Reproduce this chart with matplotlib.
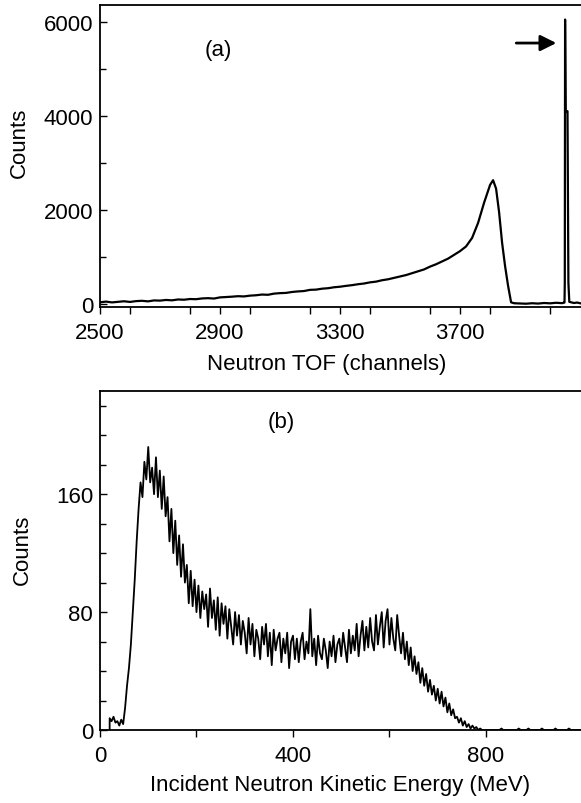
import numpy as np
import matplotlib
matplotlib.use("Agg")
import matplotlib.pyplot as plt
from matplotlib.ticker import MultipleLocator

plt.rcParams['font.family'] = ['Liberation Sans', 'DejaVu Sans']
plt.rcParams['font.size'] = 16

# (a) neutron TOF spectrum
tof_ch = [2500, 2520, 2540, 2560, 2580, 2600, 2620, 2640, 2660, 2680,
          2700, 2720, 2740, 2760, 2780, 2800, 2820, 2840, 2860, 2880,
          2900, 2920, 2940, 2960, 2980, 3000, 3020, 3040, 3060, 3080,
          3100, 3120, 3140, 3160, 3180, 3200, 3220, 3240, 3260, 3280,
          3300, 3320, 3340, 3360, 3380, 3400, 3420, 3440, 3460, 3480,
          3500, 3520, 3540, 3560, 3580, 3600, 3620, 3640, 3660, 3680,
          3700, 3720, 3740, 3760, 3780, 3800, 3810, 3820, 3830, 3840,
          3850, 3860, 3870, 3880, 3900, 3920, 3940, 3960, 3980, 4000,
          4020, 4040, 4045, 4048, 4049, 4050, 4052, 4054, 4056, 4058,
          4061, 4064, 4070, 4080, 4090, 4100]
tof_counts = [30, 45, 28, 40, 52, 38, 55, 62, 50, 70,
              66, 80, 72, 90, 85, 100, 96, 112, 118, 110,
              135, 142, 150, 160, 155, 172, 180, 195, 190, 215,
              225, 230, 250, 262, 270, 295, 300, 320, 330, 350,
              362, 380, 395, 415, 430, 455, 470, 500, 520, 550,
              580, 610, 650, 690, 730, 790, 840, 900, 960, 1040,
              1120, 1220, 1400, 1720, 2150, 2530, 2630, 2450, 1950, 1300,
              800, 380, 30, 10, 5, 0, 10, 3, 15, 8,
              20, 12, 20, 25, 450, 6050, 4100, 4100, 4100, 4100,
              450, 40, 30, 15, 25, 10]

# (b) incident neutron kinetic energy spectrum
energy = [20] + list(range(20, 1000, 4))
energy_counts = [0,
    8, 6, 9, 5, 6, 3, 7, 4, 15, 30,
    42, 58, 80, 102, 128, 150, 168, 158, 182, 170,
    192, 168, 178, 160, 185, 158, 176, 150, 172, 145,
    158, 128, 150, 120, 142, 112, 132, 104, 126, 100,
    112, 86, 108, 84, 102, 80, 98, 76, 94, 82,
    92, 70, 96, 76, 88, 68, 90, 64, 86, 72,
    84, 62, 82, 70, 58, 80, 64, 78, 58, 74,
    66, 52, 76, 58, 72, 50, 68, 62, 48, 70,
    58, 72, 50, 66, 44, 68, 54, 62, 66, 46,
    62, 52, 66, 42, 60, 64, 48, 62, 46, 60,
    66, 48, 60, 52, 82, 50, 62, 44, 64, 52,
    48, 62, 54, 42, 60, 50, 64, 46, 58, 62,
    50, 66, 56, 46, 68, 52, 64, 54, 72, 50,
    64, 74, 54, 70, 56, 76, 60, 54, 78, 58,
    70, 80, 56, 74, 82, 58, 76, 62, 54, 78,
    64, 52, 66, 48, 60, 44, 56, 40, 50, 38,
    46, 32, 42, 30, 38, 26, 34, 24, 30, 20,
    28, 18, 26, 16, 22, 12, 18, 10, 14, 8,
    9, 5, 8, 3, 6, 2, 4, 1, 3, 1,
    2, 0, 1, 0, 0, 0, 0, 0, 0, 0,
    0, 0, 0, 1, 0, 0, 0, 0, 0, 0,
    0, 0, 1, 0, 0, 0, 0, 1, 0, 0,
    0, 0, 0, 0, 1, 0, 0, 0, 0, 0,
    0, 1, 0, 0, 0, 0, 0, 0, 1, 0,
    0, 0, 0, 0, 0]

W, H = 581, 804
fig = plt.figure(figsize=(W / 100, H / 100), dpi=100)

def px_axes(left, top, right, bottom):
    return fig.add_axes([left / W, 1 - bottom / H, (right - left) / W, (bottom - top) / H])

def style(ax):
    ax.spines['right'].set_visible(False)
    for s in ['left', 'top', 'bottom']:
        ax.spines[s].set_linewidth(1.3)
    ax.tick_params(axis='y', which='both', direction='in', right=False, width=1.0, pad=5)
    ax.tick_params(axis='y', which='major', length=5)
    ax.tick_params(axis='y', which='minor', length=4)
    ax.tick_params(axis='x', which='both', direction='out', top=False, width=1.0,
                   length=5, pad=6)
    ax.tick_params(labelsize=16)

# top panel
ax1 = px_axes(100, 6, 581, 308)
ax1.plot(tof_ch, tof_counts, color='black', lw=1.6)
ax1.set_xlim(2500, 4103)
ax1.set_ylim(-70, 6360)
ax1.set_xticks([2500, 2900, 3300, 3700])
ax1.xaxis.set_minor_locator(MultipleLocator(200))
ax1.set_yticks([0, 2000, 4000, 6000])
ax1.yaxis.set_minor_locator(MultipleLocator(1000))
style(ax1)
ax1.set_xlabel('Neutron TOF (channels)')
ax1.set_ylabel('Counts')
ax1.xaxis.set_label_coords(0.472, -0.152)
ax1.yaxis.set_label_coords(-0.146, 0.546)
ax1.text(2893, 5420, '(a)', ha='center', va='center')
ax1.annotate('', xy=(4030, 5550), xytext=(3878, 5550),
             arrowprops=dict(arrowstyle='-|>,head_length=0.6,head_width=0.3',
                             color='black', lw=2))

# bottom panel
ax2 = px_axes(100, 392, 581, 731)
ax2.plot(energy, energy_counts, color='black', lw=1.3)
ax2.set_xlim(0, 997)
ax2.set_ylim(0, 230)
ax2.set_xticks([0, 400, 800])
ax2.xaxis.set_minor_locator(MultipleLocator(200))
ax2.set_yticks([0, 80, 160])
ax2.yaxis.set_minor_locator(MultipleLocator(20))
style(ax2)
ax2.set_xlabel('Incident Neutron Kinetic Energy (MeV)')
ax2.set_ylabel('Counts')
ax2.xaxis.set_label_coords(0.5, -0.13)
ax2.yaxis.set_label_coords(-0.139, 0.534)
ax2.text(375, 209, '(b)', ha='center', va='center')

fig.savefig('out.png', dpi=100)
